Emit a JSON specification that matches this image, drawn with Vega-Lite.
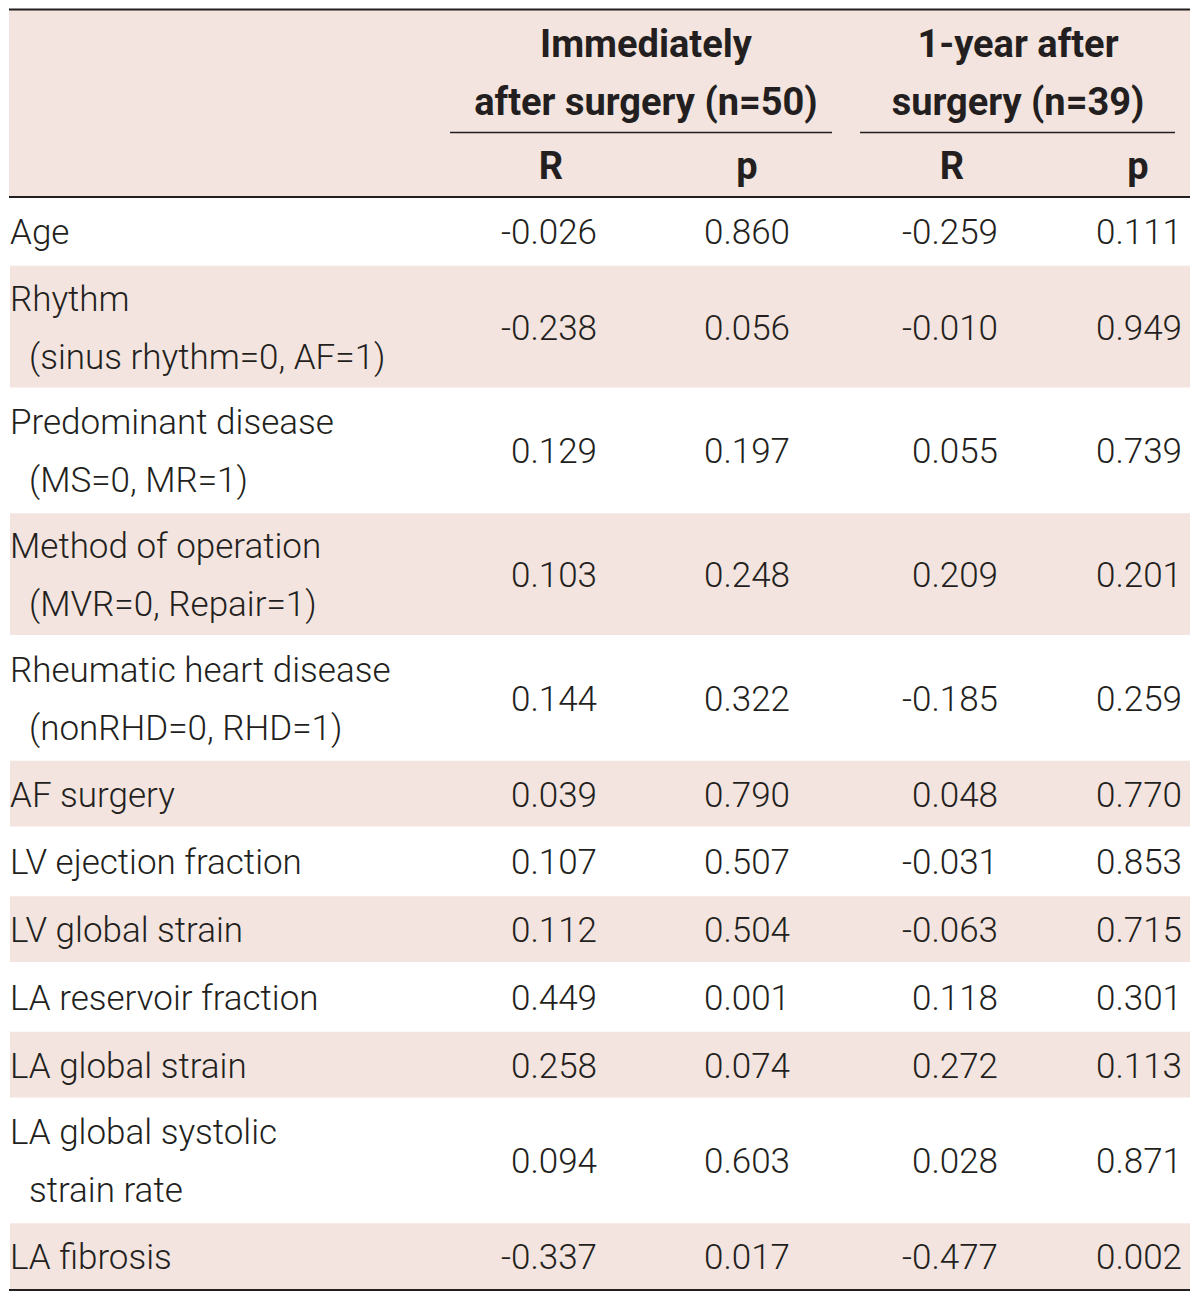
{
  "$schema": "https://vega.github.io/schema/vega-lite/v6.json",
  "width": 1200,
  "height": 1299,
  "autosize": {"type": "fit", "contains": "padding"},
  "padding": 0,
  "background": "white",
  "config": {"view": {"stroke": null}, "text": {"font": "Roboto", "color": "#231f20"}},
  "datasets": {
    "rows": [
      {"order": 1, "label": "Age", "sub": "", "lines": 1, "R1": -0.026, "p1": 0.860, "R2": -0.259, "p2": 0.111},
      {"order": 2, "label": "Rhythm", "sub": "(sinus rhythm=0, AF=1)", "lines": 2, "R1": -0.238, "p1": 0.056, "R2": -0.010, "p2": 0.949},
      {"order": 3, "label": "Predominant disease", "sub": "(MS=0, MR=1)", "lines": 2, "R1": 0.129, "p1": 0.197, "R2": 0.055, "p2": 0.739},
      {"order": 4, "label": "Method of operation", "sub": "(MVR=0, Repair=1)", "lines": 2, "R1": 0.103, "p1": 0.248, "R2": 0.209, "p2": 0.201},
      {"order": 5, "label": "Rheumatic heart disease", "sub": "(nonRHD=0, RHD=1)", "lines": 2, "R1": 0.144, "p1": 0.322, "R2": -0.185, "p2": 0.259},
      {"order": 6, "label": "AF surgery", "sub": "", "lines": 1, "R1": 0.039, "p1": 0.790, "R2": 0.048, "p2": 0.770},
      {"order": 7, "label": "LV ejection fraction", "sub": "", "lines": 1, "R1": 0.107, "p1": 0.507, "R2": -0.031, "p2": 0.853},
      {"order": 8, "label": "LV global strain", "sub": "", "lines": 1, "R1": 0.112, "p1": 0.504, "R2": -0.063, "p2": 0.715},
      {"order": 9, "label": "LA reservoir fraction", "sub": "", "lines": 1, "R1": 0.449, "p1": 0.001, "R2": 0.118, "p2": 0.301},
      {"order": 10, "label": "LA global strain", "sub": "", "lines": 1, "R1": 0.258, "p1": 0.074, "R2": 0.272, "p2": 0.113},
      {"order": 11, "label": "LA global systolic", "sub": "strain rate", "lines": 2, "R1": 0.094, "p1": 0.603, "R2": 0.028, "p2": 0.871},
      {"order": 12, "label": "LA fibrosis", "sub": "", "lines": 1, "R1": -0.337, "p1": 0.017, "R2": -0.477, "p2": 0.002}
    ],
    "header": [
      {"key": "g1", "line": 1, "text": "Immediately"},
      {"key": "g1", "line": 2, "text": "after surgery (n=50)"},
      {"key": "g2", "line": 1, "text": "1-year after"},
      {"key": "g2", "line": 2, "text": "surgery (n=39)"},
      {"key": "R1", "line": 3, "text": "R"},
      {"key": "p1", "line": 3, "text": "p"},
      {"key": "R2", "line": 3, "text": "R"},
      {"key": "p2", "line": 3, "text": "p"}
    ]
  },
  "layer": [
    {
      "data": {"values": [{}]},
      "mark": {"type": "rect", "color": "#f3e4df"},
      "encoding": {
        "x": {"datum": 9, "type": "quantitative", "scale": {"domain": [0, 1200]}, "axis": null},
        "x2": {"datum": 1190},
        "y": {"datum": 10, "type": "quantitative", "scale": {"domain": [0, 1299], "reverse": true}, "axis": null},
        "y2": {"datum": 196}
      }
    },
    {
      "data": {"name": "rows"},
      "transform": [
        {"calculate": "11.75 + 56 * datum.lines", "as": "h"},
        {"window": [{"op": "sum", "field": "h", "as": "cum"}], "sort": [{"field": "order"}], "frame": [null, 0]},
        {"calculate": "197 + datum.cum", "as": "bottom"},
        {"calculate": "datum.bottom - datum.h", "as": "top"},
        {"calculate": "(datum.top + datum.bottom) / 2", "as": "mid"}
      ],
      "layer": [
        {
          "transform": [{"filter": "datum.order % 2 == 0"}, {"calculate": "datum.top + 1", "as": "t1"}, {"calculate": "datum.bottom - 1", "as": "b1"}],
          "mark": {"type": "rect", "color": "#f3e4df"},
          "encoding": {
            "x": {"datum": 10, "type": "quantitative", "scale": {"domain": [0, 1200]}, "axis": null},
            "x2": {"datum": 1190},
            "y": {"field": "t1", "type": "quantitative", "scale": {"domain": [0, 1299], "reverse": true}, "axis": null},
            "y2": {"field": "b1"}
          }
        },
        {
          "transform": [{"calculate": "datum.lines == 2 ? datum.mid - 29 : datum.mid", "as": "ly"}],
          "mark": {"type": "text", "align": "left", "baseline": "middle", "fontSize": 35, "fontWeight": 300, "dy": 2},
          "encoding": {
            "x": {"datum": 10, "type": "quantitative", "scale": {"domain": [0, 1200]}, "axis": null},
            "y": {"field": "ly", "type": "quantitative", "scale": {"domain": [0, 1299], "reverse": true}, "axis": null},
            "text": {"field": "label"}
          }
        },
        {
          "transform": [{"filter": "datum.lines == 2"}, {"calculate": "datum.mid + 29", "as": "ly2"}],
          "mark": {"type": "text", "align": "left", "baseline": "middle", "fontSize": 35, "fontWeight": 300, "dy": 2},
          "encoding": {
            "x": {"datum": 29, "type": "quantitative", "scale": {"domain": [0, 1200]}, "axis": null},
            "y": {"field": "ly2", "type": "quantitative", "scale": {"domain": [0, 1299], "reverse": true}, "axis": null},
            "text": {"field": "sub"}
          }
        },
        {
          "transform": [
            {"fold": ["R1", "p1", "R2", "p2"], "as": ["col", "val"]},
            {"calculate": "datum.col == 'R1' ? 597 : datum.col == 'p1' ? 790 : datum.col == 'R2' ? 998 : 1182", "as": "cx"},
            {"calculate": "replace(format(datum.val, '.3f'), '\u2212', '-')", "as": "txt"}
          ],
          "mark": {"type": "text", "align": "right", "baseline": "middle", "fontSize": 35, "fontWeight": 300, "dy": 2},
          "encoding": {
            "x": {"field": "cx", "type": "quantitative", "scale": {"domain": [0, 1200]}, "axis": null},
            "y": {"field": "mid", "type": "quantitative", "scale": {"domain": [0, 1299], "reverse": true}, "axis": null},
            "text": {"field": "txt"}
          }
        }
      ]
    },
    {
      "data": {"name": "header"},
      "transform": [
        {"calculate": "datum.key == 'g1' ? 646 : datum.key == 'g2' ? 1018 : datum.key == 'R1' ? 551 : datum.key == 'p1' ? 747 : datum.key == 'R2' ? 952 : 1138", "as": "hx"},
        {"calculate": "datum.line == 1 ? 45 : datum.line == 2 ? 103 : 167", "as": "hy"}
      ],
      "mark": {"type": "text", "align": "center", "baseline": "middle", "fontSize": 38, "fontWeight": "bold", "dy": 1},
      "encoding": {
        "x": {"field": "hx", "type": "quantitative", "scale": {"domain": [0, 1200]}, "axis": null},
        "y": {"field": "hy", "type": "quantitative", "scale": {"domain": [0, 1299], "reverse": true}, "axis": null},
        "text": {"field": "text"}
      }
    },
    {
      "data": {"values": [{}]},
      "mark": {"type": "rule", "color": "#231f20", "strokeWidth": 2},
      "encoding": {
        "x": {"datum": 9, "type": "quantitative", "scale": {"domain": [0, 1200]}, "axis": null},
        "x2": {"datum": 1190},
        "y": {"datum": 9.5, "type": "quantitative", "scale": {"domain": [0, 1299], "reverse": true}, "axis": null}
      }
    },
    {
      "data": {"values": [{}]},
      "mark": {"type": "rule", "color": "#231f20", "strokeWidth": 2},
      "encoding": {
        "x": {"datum": 9, "type": "quantitative", "scale": {"domain": [0, 1200]}, "axis": null},
        "x2": {"datum": 1190},
        "y": {"datum": 197, "type": "quantitative", "scale": {"domain": [0, 1299], "reverse": true}, "axis": null}
      }
    },
    {
      "data": {"values": [{}]},
      "mark": {"type": "rule", "color": "#231f20", "strokeWidth": 2},
      "encoding": {
        "x": {"datum": 9, "type": "quantitative", "scale": {"domain": [0, 1200]}, "axis": null},
        "x2": {"datum": 1190},
        "y": {"datum": 1290, "type": "quantitative", "scale": {"domain": [0, 1299], "reverse": true}, "axis": null}
      }
    },
    {
      "data": {"values": [{}]},
      "mark": {"type": "rule", "color": "#231f20", "strokeWidth": 1.5},
      "encoding": {
        "x": {"datum": 450, "type": "quantitative", "scale": {"domain": [0, 1200]}, "axis": null},
        "x2": {"datum": 832},
        "y": {"datum": 132.5, "type": "quantitative", "scale": {"domain": [0, 1299], "reverse": true}, "axis": null}
      }
    },
    {
      "data": {"values": [{}]},
      "mark": {"type": "rule", "color": "#231f20", "strokeWidth": 1.5},
      "encoding": {
        "x": {"datum": 860, "type": "quantitative", "scale": {"domain": [0, 1200]}, "axis": null},
        "x2": {"datum": 1175},
        "y": {"datum": 132.5, "type": "quantitative", "scale": {"domain": [0, 1299], "reverse": true}, "axis": null}
      }
    }
  ]
}
